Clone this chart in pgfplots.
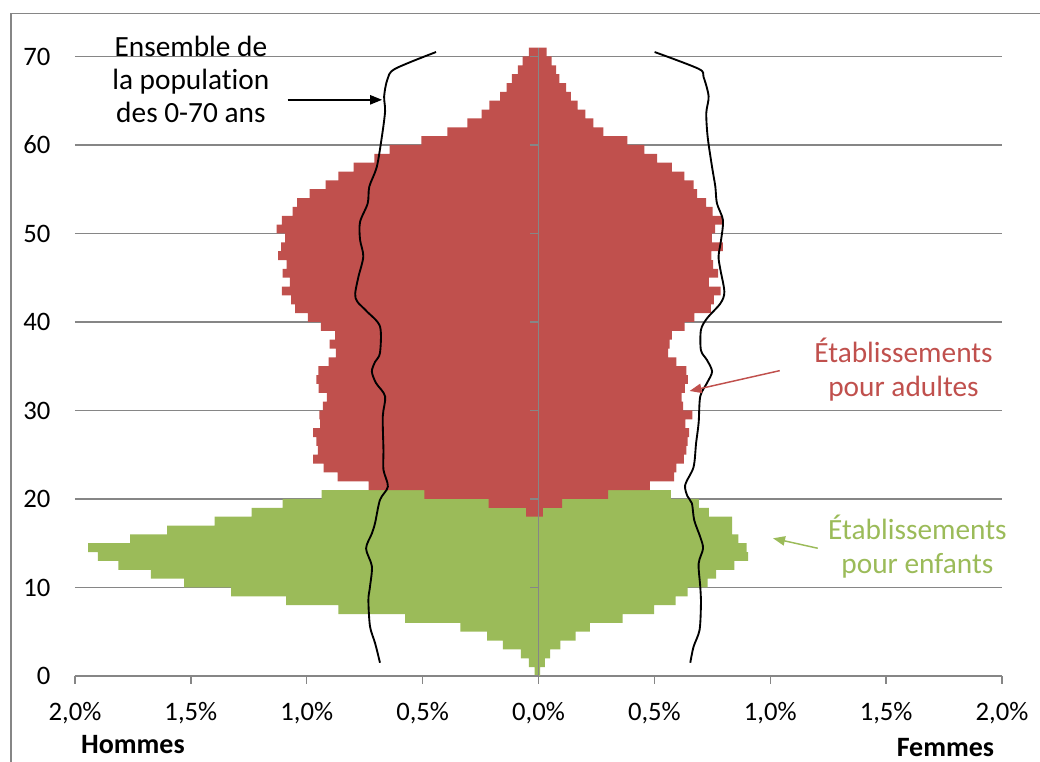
\documentclass[border=0pt]{standalone}
\usepackage{fontspec}
\setmainfont{Carlito}[Ligatures=NoCommon]
\usepackage{pgfplots}
\pgfplotsset{compat=1.18}
\usepackage{pgfplotstable}
\usetikzlibrary{arrows.meta}
\definecolor{adred}{HTML}{C0504D}
\definecolor{kidgreen}{HTML}{9BBB59}
\definecolor{gridgray}{HTML}{868686}

% Hommes, etablissements pour enfants (valeurs cumulees, cote gauche)
\pgfplotstableread{
age v
0 -0.017
1 -0.042
2 -0.076
3 -0.154
4 -0.222
5 -0.337
6 -0.576
7 -0.864
8 -1.089
9 -1.326
10 -1.529
11 -1.673
12 -1.813
13 -1.901
14 -1.943
15 -1.762
16 -1.603
17 -1.398
18 -1.238
19 -1.104
20 -0.936
}\menkids
% Hommes, etablissements pour adultes
\pgfplotstableread{
age v
18 -0.053
19 -0.215
20 -0.492
21 -0.733
22 -0.867
23 -0.927
24 -0.972
25 -0.952
26 -0.958
27 -0.973
28 -0.942
29 -0.946
30 -0.930
31 -0.913
32 -0.949
33 -0.959
34 -0.950
35 -0.906
36 -0.874
37 -0.901
38 -0.878
39 -0.939
40 -0.995
41 -1.050
42 -1.067
43 -1.107
44 -1.073
45 -1.104
46 -1.087
47 -1.123
48 -1.111
49 -1.093
50 -1.130
51 -1.107
52 -1.061
53 -1.041
54 -0.988
55 -0.919
56 -0.864
57 -0.798
58 -0.708
59 -0.642
60 -0.505
61 -0.393
62 -0.307
63 -0.245
64 -0.212
65 -0.166
66 -0.137
67 -0.115
68 -0.089
69 -0.068
70 -0.042
}\menadults
% Femmes, etablissements pour enfants (valeurs cumulees)
\pgfplotstableread{
age v
0 0.007
1 0.028
2 0.050
3 0.094
4 0.160
5 0.222
6 0.363
7 0.499
8 0.592
9 0.644
10 0.730
11 0.766
12 0.845
13 0.905
14 0.898
15 0.862
16 0.836
17 0.836
18 0.735
19 0.692
20 0.571
}\womenkids
% Femmes, etablissements pour adultes
\pgfplotstableread{
age v
18 0.019
19 0.102
20 0.300
21 0.481
22 0.585
23 0.595
24 0.627
25 0.638
26 0.644
27 0.650
28 0.634
29 0.664
30 0.624
31 0.618
32 0.632
33 0.645
34 0.638
35 0.595
36 0.559
37 0.566
38 0.576
39 0.631
40 0.673
41 0.744
42 0.757
43 0.786
44 0.735
45 0.775
46 0.753
47 0.746
48 0.796
49 0.748
50 0.762
51 0.792
52 0.751
53 0.723
54 0.684
55 0.669
56 0.629
57 0.575
58 0.512
59 0.457
60 0.384
61 0.280
62 0.237
63 0.202
64 0.169
65 0.140
66 0.119
67 0.090
68 0.076
69 0.057
70 0.035
}\womenadults
% Ensemble de la population, hommes
\pgfplotstableread{
y x
70.5 -0.442
68.6 -0.619
67.4 -0.652
65.5 -0.666
63.8 -0.662
60.9 -0.676
57.5 -0.698
55.3 -0.730
53.4 -0.737
51.3 -0.770
49.3 -0.770
47.4 -0.756
45.1 -0.777
43.2 -0.791
42.3 -0.782
41.2 -0.741
39.5 -0.684
36.5 -0.684
35.5 -0.705
34.4 -0.719
33.1 -0.701
31.6 -0.662
29.3 -0.672
25.5 -0.669
23.3 -0.669
21.4 -0.650
19.9 -0.684
17.3 -0.705
16.1 -0.719
14.4 -0.744
12.4 -0.719
10.1 -0.727
8.6 -0.734
5.6 -0.727
3.7 -0.705
1.5 -0.684
}\menline
% Ensemble de la population, femmes
\pgfplotstableread{
y x
70.5 0.501
68.6 0.691
67.7 0.712
65.5 0.734
63.6 0.724
60.9 0.730
57.5 0.749
55.3 0.763
53.4 0.770
51.5 0.796
49.3 0.788
47.4 0.777
45.9 0.785
43.4 0.802
42.1 0.785
40.4 0.727
39.1 0.701
36.8 0.701
35.7 0.727
34.4 0.749
33.1 0.727
31.6 0.698
28.6 0.691
26.3 0.680
23.6 0.669
21.6 0.633
20.3 0.643
19.5 0.662
17.6 0.672
15.7 0.698
14.4 0.710
12.7 0.691
10.1 0.698
8.2 0.701
5.2 0.695
3.3 0.669
1.5 0.655
}\womenline

\pgfplotsset{mybar/.style={xbar, bar width=1, bar shift=0pt, draw=none}}

\begin{document}
\begin{tikzpicture}
\useasboundingbox (-56.25pt,-64.5pt) rectangle (723.75pt,507pt);
\draw[gridgray, line width=1.2pt] (-48pt,-64.5pt) -- (-48pt,497pt) -- (723.75pt,497pt);
\begin{axis}[
  at={(0pt,0pt)}, anchor=south west,
  scale only axis, width=695.25pt, height=471.3pt,
  xmin=-2, xmax=2, ymin=0, ymax=71,
  enlargelimits=false,
  axis lines*=left,
  x axis line style={gridgray, line width=1pt},
  y axis line style={draw=none},
  xtick={-2,-1.5,-1,-0.5,0,0.5,1,1.5,2},
  xticklabels={{2,0\%},{1,5\%},{1,0\%},{0,5\%},{0,0\%},{0,5\%},{1,0\%},{1,5\%},{2,0\%}},
  ytick={0,10,20,30,40,50,60,70},
  yticklabels={0,10,20,30,40,50,60,70},
  tick align=outside,
  major tick length=6pt,
  xtick style={gridgray, line width=1pt},
  ytick style={draw=none},
  ymajorgrids,
  grid style={gridgray, line width=1pt},
  ticklabel style={font=\fontsize{20}{24}\selectfont},
  xticklabel style={yshift=-10pt},
  yticklabel style={xshift=-9pt},
  clip=false,
]
\addplot[mybar, fill=kidgreen] table[x=v, y expr=\thisrow{age}+0.5]{\menkids};
\addplot[mybar, fill=adred] table[x=v, y expr=\thisrow{age}+0.5]{\menadults};
\addplot[mybar, fill=kidgreen] table[x=v, y expr=\thisrow{age}+0.5]{\womenkids};
\addplot[mybar, fill=adred] table[x=v, y expr=\thisrow{age}+0.5]{\womenadults};
\addplot[black, line width=1.4pt, smooth, mark=none] table[x=x, y=y]{\menline};
\addplot[black, line width=1.4pt, smooth, mark=none] table[x=x, y=y]{\womenline};

\draw[gridgray, line width=1pt] (axis cs:0,0) -- (axis cs:0,71);
\pgfplotsinvokeforeach{0,10,20,30,40,50,60,70}{
  \draw[gridgray, line width=1pt] (axis cs:0,#1) -- ++(-6pt,0pt);
}

\node[align=center, font=\fontsize{22}{25}\selectfont] at (axis cs:-1.50,67.4) {Ensemble de\\la population\\des 0-70 ans};
\draw[black, line width=1.1pt, -{Triangle[length=9pt,width=7pt]}] (axis cs:-1.082,65.1) -- (axis cs:-0.675,65.1);

\node[align=center, text=adred, font=\fontsize{22}{25}\selectfont] at (axis cs:1.575,34.6) {Établissements\\pour adultes};
\draw[adred, line width=1.1pt, -{Triangle[length=9pt,width=7pt]}] (axis cs:1.041,34.5) -- (axis cs:0.652,32.2);

\node[align=center, text=kidgreen, font=\fontsize{22}{25}\selectfont] at (axis cs:1.635,14.6) {Établissements\\pour enfants};
\draw[kidgreen, line width=1.1pt, -{Triangle[length=9pt,width=7pt]}] (axis cs:1.205,14.43) -- (axis cs:1.012,15.56);

\node[font=\bfseries\fontsize{21}{24}\selectfont, inner sep=0pt] at (axis cs:-1.750,-7.8) {Hommes};
\node[font=\bfseries\fontsize{21}{24}\selectfont, inner sep=0pt] at (axis cs:1.756,-8.1) {Femmes};
\end{axis}
\end{tikzpicture}
\end{document}
